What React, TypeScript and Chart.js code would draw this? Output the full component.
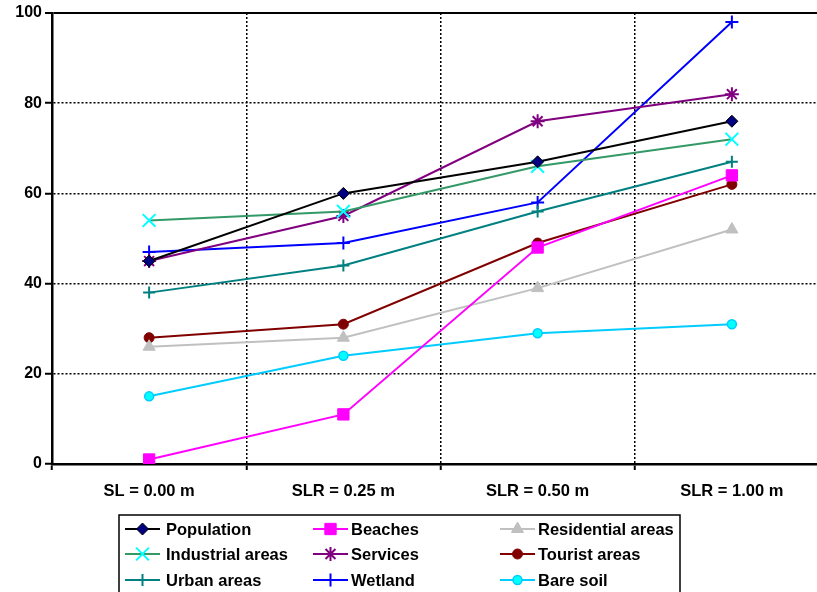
import React, { useEffect, useRef } from 'react';
import { Chart, registerables } from 'chart.js';
import { drawPoint } from 'chart.js/helpers';

Chart.register(...registerables);

const categories = ['SL = 0.00 m', 'SLR = 0.25 m', 'SLR = 0.50 m', 'SLR = 1.00 m'];
const population = [45, 60, 67, 76];
const beaches = [1, 11, 48, 64];
const residential = [26, 28, 39, 52];
const industrial = [54, 56, 66, 72];
const services = [45, 55, 76, 82];
const tourist = [28, 31, 49, 62];
const urban = [38, 44, 56, 67];
const wetland = [47, 49, 58, 98];
const bareSoil = [15, 24, 29, 31];
const yMin = 0;
const yMax = 100;
const yStep = 20;

const FONT = '"Liberation Sans", Arial, sans-serif';

const seriesDefs = [
  { label: 'Population', data: population, line: '#000000', fill: '#000080', border: '#000000', style: 'rectRot', r: 6, bw: 1 },
  { label: 'Beaches', data: beaches, line: '#FF00FF', fill: '#FF00FF', border: '#FF00FF', style: 'rect', r: 8, bw: 1 },
  { label: 'Residential areas', data: residential, line: '#C0C0C0', fill: '#C0C0C0', border: '#C0C0C0', style: 'triangle', r: 7, bw: 1 },
  { label: 'Industrial areas', data: industrial, line: '#339966', fill: '#00FFFF', border: '#00FFFF', style: 'crossRot', r: 9, bw: 2 },
  { label: 'Services', data: services, line: '#800080', fill: '#800080', border: '#800080', style: 'star', r: 7, bw: 2 },
  { label: 'Tourist areas', data: tourist, line: '#800000', fill: '#800000', border: '#800000', style: 'circle', r: 5, bw: 1 },
  { label: 'Urban areas', data: urban, line: '#008080', fill: '#008080', border: '#008080', style: 'cross', r: 6, bw: 2 },
  { label: 'Wetland', data: wetland, line: '#0000FF', fill: '#0000FF', border: '#0000FF', style: 'cross', r: 6.5, bw: 2 },
  { label: 'Bare soil', data: bareSoil, line: '#00CCFF', fill: '#00FFFF', border: '#00CCFF', style: 'circle', r: 4.5, bw: 1.5 },
];

const legendPlugin = {
  id: 'gridLegend',
  afterDraw(chart: any) {
    const ctx = chart.ctx;
    ctx.save();
    ctx.lineWidth = 1.5;
    ctx.strokeStyle = '#000';
    ctx.strokeRect(119, 515, 561, 90);
    const colLine = [125, 313, 500];
    const colText = [166, 351, 538];
    const rowY = [529, 554, 580];
    chart.data.datasets.forEach((ds: any, i: number) => {
      const x = colLine[i % 3];
      const tx = colText[i % 3];
      const y = rowY[Math.floor(i / 3)];
      ctx.setLineDash([]);
      ctx.strokeStyle = ds.borderColor;
      ctx.lineWidth = 2;
      ctx.beginPath();
      ctx.moveTo(x, y);
      ctx.lineTo(x + 35, y);
      ctx.stroke();
      ctx.fillStyle = ds.pointBackgroundColor;
      ctx.strokeStyle = ds.pointBorderColor;
      ctx.lineWidth = ds.pointBorderWidth;
      drawPoint(ctx, { pointStyle: ds.pointStyle, radius: ds.pointRadius, rotation: 0, borderWidth: ds.pointBorderWidth }, x + 17.5, y);
      ctx.fillStyle = '#000';
      ctx.font = `bold 16.5px ${FONT}`;
      ctx.textBaseline = 'middle';
      ctx.textAlign = 'left';
      ctx.fillText(ds.label, tx, y + 1);
    });
    ctx.restore();
  },
};

export default function App() {
  const ref = useRef<HTMLCanvasElement | null>(null);
  useEffect(() => {
    if (!ref.current) return;
    const chart = new Chart(ref.current, {
      type: 'line',
      data: {
        labels: categories,
        datasets: seriesDefs.map((s) => ({
          label: s.label,
          data: s.data,
          borderColor: s.line,
          backgroundColor: s.fill,
          borderWidth: 2,
          pointStyle: s.style as any,
          pointRadius: s.r,
          pointHoverRadius: s.r,
          pointBackgroundColor: s.fill,
          pointBorderColor: s.border,
          pointBorderWidth: s.bw,
          fill: false,
          tension: 0,
        })),
      },
      options: {
        responsive: false,
        animation: false,
        devicePixelRatio: 1,
        layout: { padding: { top: 13, right: 2, bottom: 0, left: 0 } },
        plugins: { legend: { display: false }, tooltip: { enabled: false } },
        scales: {
          x: {
            type: 'category',
            offset: true,
            afterFit: (s: any) => { s.height = 128; },
            grid: {
              offset: true,
              color: '#000',
              lineWidth: 1.5,
              drawTicks: true,
              tickLength: 6,
              tickColor: '#000',
              tickWidth: 2,
            },
            border: { display: true, color: '#000', width: 2.5, dash: [2, 2] },
            ticks: {
              color: '#000',
              font: { family: FONT, size: 16.5, weight: 'bold' },
              padding: 12,
              maxRotation: 0,
              autoSkip: false,
            },
          },
          y: {
            min: yMin,
            max: yMax,
            afterFit: (s: any) => { s.width = 52; },
            grid: {
              color: '#000',
              lineWidth: (c: any) => (c.tick && c.tick.value === yMax ? 2 : 1.5),
              drawTicks: true,
              tickLength: 7,
              tickColor: '#000',
              tickWidth: 2,
            },
            border: {
              display: true,
              color: '#000',
              width: 2.5,
              dash: (c: any) => (c.tick && c.tick.value === yMax ? [] : [2, 2]),
            },
            ticks: {
              stepSize: yStep,
              color: '#000',
              font: { family: FONT, size: 16, weight: 'bold' },
              padding: 3,
            },
          },
        },
      },
      plugins: [legendPlugin],
    });
    return () => chart.destroy();
  }, []);
  return (
    <div style={{ position: 'fixed', left: 0, top: 0, width: 817, height: 592, overflow: 'hidden', background: '#fff' }}>
      <canvas ref={ref} width={840} height={592} style={{ display: 'block', width: 840, height: 592 }} />
    </div>
  );
}
